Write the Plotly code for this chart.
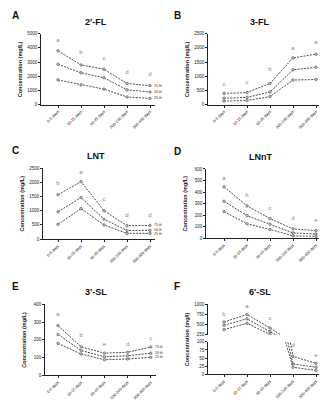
import plotly.graph_objects as go

W, H = 327, 400
categories = ["0-5 days", "10-15 days", "40-45 days", "200-240 days", "300-400 days"]
pct_names = ["75 th", "50 th", "25 th"]

fl2_p75 = [3800, 2800, 2500, 1500, 1350]
fl2_p50 = [2850, 2250, 1900, 1050, 900]
fl2_p25 = [1750, 1400, 1100, 550, 450]
fl2_letters = ["a", "b", "c", "d", "d"]
fl2_letter_y = [4500, 3650, 3250, 2250, 2150]

fl3_p75 = [400, 430, 750, 1650, 1780]
fl3_p50 = [230, 260, 450, 1230, 1320]
fl3_p25 = [130, 150, 290, 870, 890]
fl3_letters = ["c", "c", "b", "a", "a"]
fl3_letter_y = [700, 780, 1230, 1980, 2200]

lnt_p75 = [1560, 2020, 1000, 470, 480]
lnt_p50 = [960, 1460, 700, 300, 310]
lnt_p25 = [520, 1070, 500, 200, 200]
lnt_letters = ["b", "a", "c", "d", "d"]
lnt_letter_y = [1950, 2330, 1380, 820, 820]

lnnt_p75 = [445, 280, 170, 80, 65]
lnnt_p50 = [320, 195, 120, 45, 35]
lnnt_p25 = [230, 125, 75, 20, 15]
lnnt_letters = ["a", "b", "c", "d", "e"]
lnnt_letter_y = [520, 370, 255, 170, 150]

sl3_p75 = [280, 160, 125, 130, 160]
sl3_p50 = [230, 140, 105, 110, 125]
sl3_p25 = [180, 120, 88, 92, 102]
sl3_letters = ["a", "b", "e", "d", "c"]
sl3_letter_y = [340, 225, 175, 175, 210]

sl6_p75 = [565, 750, 420, 55, 34]
sl6_p50 = [485, 645, 330, 32, 22]
sl6_p25 = [378, 533, 260, 22, 12]
sl6_letters = ["b", "a", "c", "d", "e"]
sl6_letter_y = [750, 950, 660, 88, 58]

FONT = "Arial, Liberation Sans, sans-serif"
LINE = "#3a3a3a"
GREY = "#8a8a8a"

fig = go.Figure()

panels = [
    dict(key="A", title="2'-FL", series=[fl2_p75, fl2_p50, fl2_p25], letters=fl2_letters, ly=fl2_letter_y,
         xl=33, xr=147, c0=50, sp=23, top=24, bot=96, yr=[0, 5000], dt=1000, ylab="Concentration (mg/L)"),
    dict(key="B", title="3-FL", series=[fl3_p75, fl3_p50, fl3_p25], letters=fl3_letters, ly=fl3_letter_y,
         xl=200, xr=312, c0=216, sp=23, top=24, bot=96, yr=[0, 2500], dt=500, ylab="Concentration (mg/L)"),
    dict(key="C", title="LNT", series=[lnt_p75, lnt_p50, lnt_p25], letters=lnt_letters, ly=lnt_letter_y,
         xl=35, xr=147, c0=50, sp=23, top=160, bot=232, yr=[0, 2500], dt=500, ylab="Concentration (mg/L)"),
    dict(key="D", title="LNnT", series=[lnnt_p75, lnnt_p50, lnnt_p25], letters=lnnt_letters, ly=lnnt_letter_y,
         xl=198, xr=312, c0=216, sp=23, top=161, bot=231, yr=[0, 600], dt=100, ylab="Concentration (mg/L)"),
    dict(key="E", title="3'-SL", series=[sl3_p75, sl3_p50, sl3_p25], letters=sl3_letters, ly=sl3_letter_y,
         xl=37, xr=148, c0=50, sp=23.2, top=298, bot=370, yr=[0, 400], dt=100, ylab="Concentration (mg/L)"),
]

def axis_common():
    return dict(showline=True, linecolor="#222", linewidth=0.8, ticks="outside", ticklen=2,
                tickwidth=0.8, tickcolor="#222", showgrid=False, zeroline=False,
                tickfont=dict(family=FONT, size=4.5, color="#222"))

anns = []

def refs(i):
    xa = "xaxis" if i == 1 else f"xaxis{i}"
    ya = "yaxis" if i == 1 else f"yaxis{i}"
    xr_ = "x" if i == 1 else f"x{i}"
    yr_ = "y" if i == 1 else f"y{i}"
    return xa, ya, xr_, yr_

def setup_axes(i, p, ydomain, yrange, tickvals=None, dtick=None, xvisible=True):
    xa, ya, xr_, yr_ = refs(i)
    rng = [-(p["c0"] - p["xl"]) / p["sp"], (p["xr"] - p["c0"]) / p["sp"]]
    xd = dict(axis_common(), type="category", domain=[p["xl"] / W, p["xr"] / W], range=rng,
              anchor=yr_, tickangle=-45, tickfont=dict(family=FONT, size=4.0, color="#222"),
              categoryorder="array", categoryarray=categories, visible=xvisible)
    yd = dict(axis_common(), domain=ydomain, range=yrange, anchor=xr_)
    if tickvals is not None:
        yd["tickvals"] = tickvals
    else:
        yd["dtick"] = dtick
    fig.layout[xa] = xd
    fig.layout[ya] = yd
    return xr_, yr_

def add_series(xr_, yr_, series):
    for s in series:
        fig.add_trace(go.Scatter(x=categories, y=s, mode="lines+markers", xaxis=xr_, yaxis=yr_,
                                 line=dict(color=LINE, width=0.9, dash="2px,1.2px"),
                                 marker=dict(size=2.6, color="#bdbdbd", line=dict(color="#444", width=0.5)),
                                 cliponaxis=True, showlegend=False))

def add_letters(xr_, yr_, xs, ys, ts):
    fig.add_trace(go.Scatter(x=xs, y=ys, mode="text", text=ts, xaxis=xr_, yaxis=yr_,
                             textfont=dict(family=FONT, size=6, color=GREY), showlegend=False,
                             cliponaxis=False))

def add_pct_labels(xr_, yr_, series, bot, top, yrange):
    scale = (bot - top) / (yrange[1] - yrange[0])
    pys = [bot - (s[-1] - yrange[0]) * scale for s in series]
    adj = list(pys)
    gap = 4.2
    for k in range(1, len(adj)):
        if adj[k] - adj[k - 1] < gap:
            adj[k] = adj[k - 1] + gap
    over = adj[-1] - (bot + 1)
    if over > 0:
        adj = [a - over for a in adj]
    for s, name, py, ay in zip(series, pct_names, pys, adj):
        anns.append(dict(x=categories[-1], y=s[-1], xref=xr_, yref=yr_, text=name, showarrow=False,
                         xanchor="left", xshift=3, yshift=-(ay - py), borderpad=0,
                         font=dict(family=FONT, size=3.5, color="#222")))

for i, p in enumerate(panels, start=1):
    yd = [1 - p["bot"] / H, 1 - p["top"] / H]
    xr_, yr_ = setup_axes(i, p, yd, p["yr"], dtick=p["dt"])
    add_series(xr_, yr_, p["series"])
    add_letters(xr_, yr_, categories, p["ly"], p["letters"])
    add_pct_labels(xr_, yr_, p["series"], p["bot"], p["top"], p["yr"])

# Panel F with broken axis (lower 0-100, upper 250-1000)
pF = dict(key="F", title="6'-SL", series=[sl6_p75, sl6_p50, sl6_p25],
          xl=200, xr=312, c0=216, sp=23, top=298, bot=369, ylab="Concentration (mg/l)")
lo_bot, lo_top, up_bot, up_top = 369, 336, 329, 298
xr6, yr6 = setup_axes(6, pF, [1 - lo_bot / H, 1 - lo_top / H], [0, 100], tickvals=[0, 25, 50, 75, 100])
xr7, yr7 = setup_axes(7, pF, [1 - up_bot / H, 1 - up_top / H], [250, 1000], tickvals=[250, 500, 750, 1000],
                      xvisible=False)
add_series(xr6, yr6, pF["series"])
add_series(xr7, yr7, pF["series"])
lo_idx = [k for k, v in enumerate(sl6_letter_y) if v <= 100]
up_idx = [k for k, v in enumerate(sl6_letter_y) if v > 100]
add_letters(xr6, yr6, [categories[k] for k in lo_idx], [sl6_letter_y[k] for k in lo_idx],
            [sl6_letters[k] for k in lo_idx])
add_letters(xr7, yr7, [categories[k] for k in up_idx], [sl6_letter_y[k] for k in up_idx],
            [sl6_letters[k] for k in up_idx])
add_pct_labels(xr6, yr6, pF["series"], lo_bot, lo_top, [0, 100])
panels.append(pF)

for p in panels:
    left = p["xl"] < 160
    anns.append(dict(x=(88 if left else 252) / W, y=1 - ((p["top"] - 12) / H), xref="paper", yref="paper",
                     text=f"<b>{p['title']}</b>", showarrow=False, xanchor="center", yanchor="middle",
                     font=dict(family=FONT, size=9, color="#111")))
    anns.append(dict(x=(2 if left else 164) / W, y=1 - ((p["top"] - 18) / H), xref="paper", yref="paper",
                     text=f"<b>{p['key']}</b>", showarrow=False, xanchor="left", yanchor="middle",
                     font=dict(family=FONT, size=10, color="#111")))
    anns.append(dict(x=(p["xl"] - 21) / W, y=1 - ((p["top"] + p["bot"]) / 2 / H), xref="paper", yref="paper",
                     text=f"<b>{p['ylab']}</b>", showarrow=False, textangle=-90, xanchor="center", yanchor="middle",
                     font=dict(family=FONT, size=5.5, color="#222")))

fig.update_layout(width=W, height=H, margin=dict(l=0, r=0, t=0, b=0), paper_bgcolor="white",
                  plot_bgcolor="rgba(0,0,0,0)", annotations=anns, showlegend=False)
fig.write_html("out.html", config={"displayModeBar": False})
